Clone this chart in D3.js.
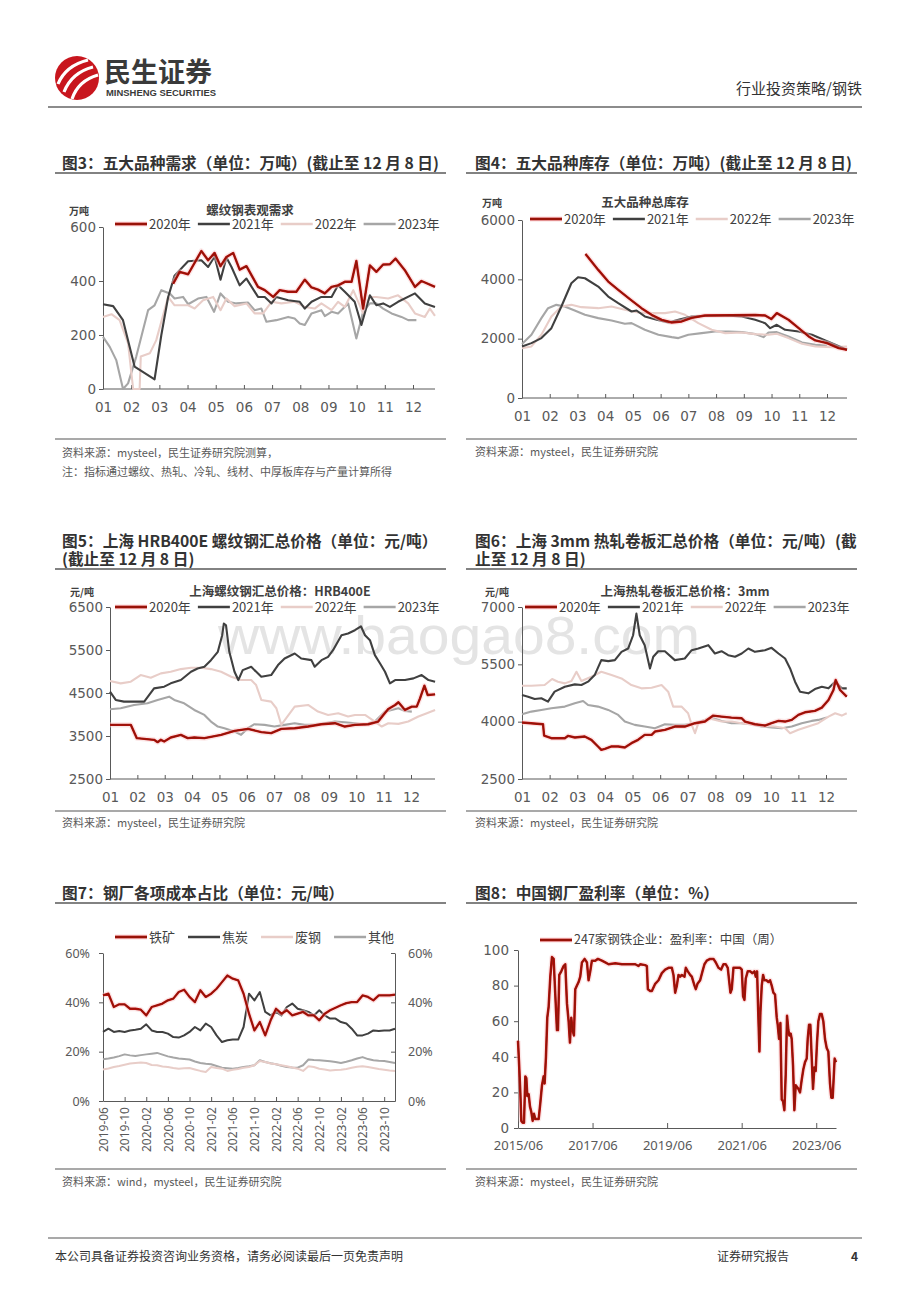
<!DOCTYPE html>
<html>
<head>
<meta charset="utf-8">
<script src="https://cdn.jsdelivr.net/npm/d3@7"></script>
<style>
  body { margin: 0; background: #fff; }
  svg { display: block; }
</style>
</head>
<body>
<script>
// ---------- data ----------
const monthLabels = ['01', '02', '03', '04', '05', '06', '07', '08', '09', '10', '11', '12']
const yearNames = ['2020年', '2021年', '2022年', '2023年']

// 图3 螺纹钢表观需求 (万吨), [month, value]
const demand2020 = [[2.49,390],[2.72,434],[3.02,425],[3.49,511],[3.73,477],[3.96,504],[4.17,455],[4.38,489],[4.62,504],[4.85,442],[5.09,455],[5.50,378],[5.74,366],[6.04,341],[6.27,366],[6.57,360],[6.86,360],[7.16,405],[7.40,376],[7.63,368],[7.87,354],[8.11,378],[8.34,384],[8.58,397],[8.82,397],[8.99,474],[9.23,298],[9.47,458],[9.70,434],[9.94,461],[10.18,462],[10.38,483],[10.71,440],[11.07,378],[11.30,400],[11.78,378]]
const demand2021 = [[0,314],[0.36,307],[0.71,255],[1.12,83],[1.83,36],[2.07,200],[2.31,340],[2.54,420],[3.02,473],[3.49,477],[3.73,452],[3.96,491],[4.17,405],[4.38,487],[4.56,452],[4.85,384],[5.09,409],[5.50,341],[5.74,341],[5.98,317],[6.15,341],[6.57,329],[6.98,323],[7.16,298],[7.40,323],[7.75,341],[8.11,341],[8.34,384],[8.58,360],[8.93,323],[9.17,237],[9.47,347],[9.70,310],[9.94,317],[10.18,304],[10.47,323],[11.07,354],[11.42,317],[11.78,304]]
const demand2022 = [[0,267],[0.30,277],[0.59,255],[0.89,169],[1.07,0],[1.30,0],[1.34,120],[1.66,132],[1.89,181],[2.31,341],[2.54,310],[3.02,310],[3.25,298],[3.55,329],[3.91,341],[4.17,292],[4.38,335],[4.67,307],[5.09,317],[5.38,280],[5.68,280],[5.98,323],[6.33,317],[6.80,323],[7.16,304],[7.51,298],[7.75,317],[8.11,292],[8.34,323],[8.58,304],[8.88,366],[9.23,280],[9.47,341],[9.70,341],[10.12,335],[10.47,347],[10.83,317],[11.07,280],[11.42,267],[11.60,298],[11.78,271]]
const demand2023 = [[0,193],[0.24,156],[0.47,107],[0.71,0],[0.89,21],[1.18,120],[1.60,292],[1.83,310],[2.07,366],[2.37,354],[2.54,335],[2.84,341],[3.02,314],[3.37,335],[3.67,341],[3.94,286],[4.17,354],[4.44,323],[4.73,317],[5.15,320],[5.38,292],[5.62,298],[5.80,249],[6.15,255],[6.57,267],[6.80,261],[6.98,243],[7.16,237],[7.40,280],[7.75,292],[7.87,270],[8.11,286],[8.34,280],[8.70,317],[8.99,187],[9.23,286],[9.47,317],[9.70,317],[9.94,298],[10.24,280],[10.59,267],[10.83,255],[11.12,255]]

// 图4 五大品种总库存 (万吨)
const stock2020 = [[2.29,4856],[2.75,4318],[3.11,3925],[3.47,3645],[3.89,3331],[4.31,3028],[4.67,2804],[5.04,2636],[5.40,2546],[5.76,2580],[6.12,2700],[6.60,2780],[7.57,2790],[8.41,2800],[8.77,2781],[8.99,2660],[9.19,2860],[9.61,2636],[9.98,2355],[10.34,2075],[10.58,1940],[11.0,1850],[11.42,1682],[11.72,1626]]
const stock2021 = [[0,1738],[0.34,1850],[0.70,2019],[1.06,2355],[1.42,3084],[1.78,3869],[2.02,4071],[2.27,4037],[2.75,3757],[3.11,3421],[3.47,3196],[3.95,2916],[4.13,2950],[4.43,2748],[4.86,2636],[5.28,2546],[5.64,2636],[6.12,2748],[6.72,2781],[7.33,2781],[7.93,2748],[8.41,2636],[8.77,2523],[8.95,2355],[9.19,2467],[9.49,2299],[9.98,2243],[10.46,2131],[10.94,1940],[11.72,1626]]
const stock2022 = [[0,1682],[0.34,1738],[0.70,2131],[1.06,2748],[1.42,3084],[1.78,3140],[2.14,3062],[2.75,3028],[3.23,3084],[3.71,2972],[4.19,2882],[4.67,2860],[5.16,2860],[5.52,2916],[5.88,2804],[6.36,2523],[6.84,2299],[7.33,2187],[7.93,2209],[8.41,2153],[8.89,2131],[9.19,2164],[9.61,2019],[10.10,1828],[10.58,1738],[11.18,1716],[11.72,1738]]
const stock2023 = [[0,1817],[0.34,2131],[0.70,2692],[0.94,3028],[1.24,3140],[1.54,3084],[1.90,2950],[2.27,2804],[2.75,2692],[3.23,2613],[3.71,2501],[3.95,2523],[4.43,2299],[4.92,2131],[5.40,2052],[5.64,2019],[6.00,2131],[6.48,2187],[6.96,2243],[7.45,2243],[7.93,2221],[8.41,2153],[8.71,2052],[8.89,2209],[9.19,2221],[9.61,2075],[10.10,1873],[10.58,1794],[11.0,1772]]

// 图5 上海螺纹钢汇总价格 HRB400E (元/吨)
const rebar2020 = [[0,3759],[0.76,3759],[0.98,3450],[1.61,3411],[1.74,3357],[1.86,3411],[1.98,3373],[2.22,3465],[2.59,3527],[2.84,3450],[3.08,3465],[3.45,3450],[4.06,3527],[4.55,3620],[5.04,3666],[5.53,3589],[5.89,3567],[6.26,3666],[6.75,3681],[7.24,3720],[7.73,3774],[8.22,3797],[8.58,3720],[8.95,3759],[9.44,3774],[9.80,3836],[9.99,3990],[10.17,4129],[10.42,4222],[10.54,4284],[10.78,4106],[11.03,4183],[11.21,4183],[11.33,4376],[11.49,4670],[11.61,4454],[11.88,4469]]
const rebar2021 = [[0,4531],[0.21,4338],[0.51,4299],[1.25,4299],[1.61,4608],[1.98,4647],[2.22,4724],[2.59,4801],[2.96,4994],[3.20,5071],[3.45,5110],[3.69,5264],[3.94,5457],[4.10,5844],[4.16,6114],[4.24,6075],[4.36,5457],[4.55,4994],[4.69,4801],[4.85,5032],[5.16,5110],[5.28,5032],[5.53,4879],[5.89,4917],[6.14,5149],[6.38,5303],[6.75,5419],[6.99,5303],[7.36,5264],[7.48,5110],[7.73,5264],[7.97,5341],[8.15,5496],[8.46,5844],[8.70,5883],[8.95,5960],[9.17,6052],[9.32,5844],[9.50,5728],[9.68,5380],[9.87,5187],[10.05,4994],[10.23,4724],[10.42,4801],[10.78,4801],[11.09,4840],[11.39,4917],[11.64,4801],[11.88,4763]]
const rebar2022 = [[0,4778],[0.39,4724],[0.76,4763],[1.12,4917],[1.49,4855],[1.86,4956],[2.22,4994],[2.59,5056],[2.96,5087],[3.33,5087],[3.69,5056],[4.06,4994],[4.43,4879],[4.79,4801],[5.16,4801],[5.34,4685],[5.53,4338],[5.89,4299],[6.08,4145],[6.26,3759],[6.44,3913],[6.75,4183],[7.24,4222],[7.60,4067],[7.97,3990],[8.34,4029],[8.70,3952],[8.95,3990],[9.32,3990],[9.68,3836],[9.93,3720],[10.17,3797],[10.54,3782],[10.90,3836],[11.27,3952],[11.58,4029],[11.88,4106]]
const rebar2023 = [[0,4122],[0.39,4145],[0.88,4222],[1.37,4261],[1.74,4338],[2.16,4415],[2.35,4338],[2.71,4261],[3.08,4106],[3.45,3990],[3.69,3836],[3.94,3720],[4.18,3681],[4.55,3604],[4.79,3527],[5.04,3681],[5.28,3774],[5.65,3759],[6.01,3720],[6.38,3759],[6.75,3797],[7.11,3759],[7.48,3759],[7.85,3797],[8.22,3836],[8.58,3820],[8.95,3797],[9.32,3759],[9.68,3836],[10.05,4067],[10.29,4106],[10.54,4145],[10.78,4083],[11.03,4067]]

// 图6 上海热轧卷板汇总价格 3mm (元/吨)
const hrc2020 = [[0,3977],[0.76,3933],[0.80,3638],[1.06,3568],[1.55,3568],[1.67,3629],[1.91,3586],[2.27,3612],[2.51,3525],[2.75,3351],[2.87,3264],[3.00,3290],[3.24,3351],[3.48,3351],[3.72,3325],[3.96,3438],[4.20,3525],[4.44,3655],[4.69,3655],[4.81,3742],[5.17,3786],[5.53,3873],[5.89,3873],[6.26,3960],[6.62,4003],[6.92,4159],[7.22,4133],[7.58,4107],[7.95,4090],[8.07,4003],[8.43,3933],[8.79,3899],[9.03,3960],[9.28,4020],[9.52,4003],[9.76,4046],[10.0,4177],[10.24,4246],[10.60,4281],[10.85,4368],[11.09,4567],[11.27,4828],[11.35,5089],[11.51,4828],[11.75,4654]]
const hrc2021 = [[0,4698],[0.22,4654],[0.46,4594],[0.70,4611],[0.94,4524],[1.18,4785],[1.55,4915],[1.91,4976],[2.15,4959],[2.39,5046],[2.63,5219],[2.87,5610],[3.12,5584],[3.36,5610],[3.60,5827],[3.84,5914],[4.02,6261],[4.14,6826],[4.26,6261],[4.44,6001],[4.63,5393],[4.75,5697],[4.93,5844],[5.17,5844],[5.53,5610],[5.89,5653],[6.14,5870],[6.38,5914],[6.74,6001],[6.98,5784],[7.22,5844],[7.46,5740],[7.71,5697],[7.95,5784],[8.19,5914],[8.43,5827],[8.79,5870],[9.03,5931],[9.28,5784],[9.52,5653],[9.70,5393],[9.88,5046],[10.06,4785],[10.36,4741],[10.60,4854],[10.85,4915],[11.09,4872],[11.33,5046],[11.57,4872],[11.75,4872]]
const hrc2022 = [[0,4941],[0.34,4941],[0.82,4959],[1.09,5115],[1.30,5046],[1.55,5002],[1.79,5063],[1.97,5306],[2.15,5063],[2.51,5176],[2.87,5306],[3.24,5219],[3.60,5132],[3.96,4959],[4.32,4872],[4.69,4889],[5.05,4959],[5.29,4785],[5.47,4394],[5.77,4394],[6.01,4220],[6.14,3916],[6.26,3699],[6.38,3960],[6.74,4090],[7.22,4003],[7.58,4003],[7.95,3960],[8.43,3916],[8.79,3890],[9.15,3873],[9.52,3829],[9.70,3699],[10.0,3786],[10.36,3873],[10.72,3960],[11.09,4133],[11.33,4220],[11.57,4159],[11.75,4220]]
const hrc2023 = [[0,4194],[0.34,4263],[0.70,4307],[1.06,4350],[1.55,4394],[1.91,4481],[2.21,4541],[2.39,4437],[2.75,4394],[3.12,4307],[3.48,4177],[3.72,4003],[4.08,3916],[4.44,3873],[4.81,3829],[5.17,3933],[5.53,3916],[5.89,3916],[6.26,3960],[6.62,4046],[6.86,4107],[7.22,4020],[7.58,3960],[7.95,3960],[8.31,3933],[8.67,3873],[9.03,3846],[9.40,3829],[9.76,3873],[10.12,3960],[10.48,4020],[10.72,4046],[11.03,4107]]

// 图7 钢厂各项成本占比 (%), monthly from 2019-06
const costNames = ['铁矿', '焦炭', '废钢', '其他']
const costTickLabels = ['2019-06', '2019-10', '2020-02', '2020-06', '2020-10', '2021-02', '2021-06', '2021-10', '2022-02', '2022-06', '2022-10', '2023-02', '2023-06', '2023-10']
const ironOre = [42.8,43.5,38.1,39.2,39.2,37.4,37.4,37.0,34.7,38.1,38.8,39.5,40.8,41.5,44.2,45.1,42.2,40.1,44.9,42.2,43.5,45.5,48.2,50.9,49.6,48.9,43.5,35.4,28.6,32.0,26.6,32.7,37.4,35.4,36.8,34.7,35.4,36.1,34.7,34.7,32.7,35.4,36.8,37.8,38.8,39.7,40.1,40.1,42.8,42.2,40.8,42.8,42.8,42.8,43.1]
const coke = [28.0,29.3,28.0,28.4,28.0,28.6,28.9,29.3,31.1,28.6,28.0,28.0,27.3,25.9,25.7,26.6,28.0,30.0,28.6,31.4,30.0,26.6,23.9,24.6,24.9,24.9,30.0,43.5,40.8,44.2,36.1,34.7,36.1,34.7,38.1,39.5,37.4,36.8,36.1,34.7,36.8,34.7,33.4,33.4,32.0,31.4,29.3,26.6,26.6,27.3,28.6,28.4,28.6,28.6,29.3]
const scrap = [12.8,13.2,13.8,14.2,14.7,15.2,15.4,15.6,15.4,14.6,14.5,14.0,13.8,13.4,13.1,13.3,13.4,12.8,12.2,11.8,13.8,13.4,13.1,12.2,12.7,13.0,13.5,13.8,14.5,16.2,15.8,15.2,14.9,14.5,14.1,13.6,13.1,12.2,14.1,13.8,13.1,12.8,12.4,12.6,12.7,13.0,13.5,13.9,14.1,13.8,13.4,13.0,12.7,12.4,12.2]
const other = [16.9,17.2,17.6,18.2,18.9,18.5,18.2,18.6,18.9,19.2,19.5,18.8,18.1,17.6,17.2,17.0,16.8,16.0,15.4,15.1,14.9,14.2,13.5,13.3,13.1,13.4,13.8,14.1,14.5,16.5,15.8,15.3,14.9,14.3,13.8,13.6,13.5,14.5,16.8,16.6,16.5,16.3,16.1,15.8,15.4,15.9,16.5,17.2,17.8,17.0,16.5,16.3,16.2,15.8,15.4]

// 图8 247家钢铁企业盈利率 (%), [months since 2015-06, value]
const profitName = '247家钢铁企业：盈利率：中国（周）'
const profitTickLabels = ['2015/06', '2017/06', '2019/06', '2021/06', '2023/06']
const profit = [[0,49],[0.3,38],[0.75,20],[1.07,4],[1.5,3],[1.93,3],[2.36,29],[2.68,28],[3.0,18],[3.43,19],[3.86,12],[4.29,9],[4.72,4],[5.14,8],[5.57,5],[6.11,5],[6.65,5],[7.18,14],[7.72,24],[8.25,29],[8.57,25],[9.0,40],[9.43,62],[9.86,68],[10.4,85],[10.93,96],[11.47,95],[12.0,75],[12.54,55],[12.86,55],[13.29,86],[13.93,88],[14.68,91],[15.22,92],[15.76,70],[16.29,60],[16.72,48],[17.15,62],[17.58,55],[18.0,52],[18.44,78],[18.97,80],[19.51,82],[20.04,85],[20.58,93],[21.44,95],[22.19,93],[22.72,83],[23.26,88],[23.79,94],[24.87,94],[25.72,95],[27.0,94],[28.08,93],[29.15,92],[31.3,92.5],[33.44,92],[35.58,92],[37.73,92],[38.8,91],[39.33,92],[40.94,91.5],[41.48,91],[41.8,78],[42.55,77],[43.09,77],[44.16,81],[45.23,83],[46.3,87],[47.37,89],[48.45,90],[49.52,90],[50.05,86],[50.59,76],[51.13,80],[51.66,86],[52.2,85],[52.73,86],[53.59,85],[54.02,90],[54.66,88],[55.41,86],[55.95,85],[56.81,80],[57.23,78],[57.77,81],[58.63,83],[59.38,88],[60.02,92],[60.77,94],[61.84,95],[62.92,95],[63.67,93],[64.52,90],[65.38,89],[66.13,92],[66.88,92],[67.52,90],[67.95,83],[68.38,76],[68.81,78],[69.35,90],[70.42,90],[71.49,90],[72.03,89],[72.45,74],[72.88,72],[73.31,84],[73.95,88],[74.71,88],[75.46,87],[76.1,88],[76.53,85],[76.96,88],[77.38,62],[77.71,43],[78.03,65],[78.46,80],[78.89,86],[79.31,83],[79.96,83],[80.6,82],[81.14,83],[81.67,80],[82.21,76],[82.74,75],[83.28,62],[83.6,58],[84.03,50],[84.46,59],[84.67,38],[84.89,16],[85.32,15],[85.74,10],[86.17,30],[86.6,63],[87.03,55],[87.35,52],[87.78,53],[88.1,50],[88.53,35],[88.96,10],[89.39,24],[89.82,23],[90.24,22],[90.78,20],[91.32,27],[91.85,33],[92.39,37],[92.93,39],[93.25,50],[93.68,58],[94.1,58],[94.53,40],[94.96,22],[95.39,34],[95.82,32],[96.25,48],[96.68,60],[97.21,64],[97.75,64],[98.28,60],[98.82,50],[99.36,45],[99.89,43],[100.43,25],[100.86,17],[101.29,17],[101.61,28],[101.93,39],[102.36,37]]

// ---------- style ----------
const RED = '#8f1508'
const seriesColors = [RED, '#404040', '#e8cdc8', '#a6a6a6']
const axisColor = '#595959'
const CJK = '"Noto Sans CJK SC", "Noto Sans", sans-serif'

const svg = d3
  .select('body')
  .append('svg')
  .attr('width', 920)
  .attr('height', 1302)
  .attr('font-family', CJK)

svg.append('rect').attr('width', 920).attr('height', 1302).attr('fill', '#fff')

// watermark (behind everything)
svg
  .append('text')
  .attr('x', 218)
  .attr('y', 654)
  .attr('font-family', 'Liberation Sans')
  .attr('font-size', 54)
  .attr('fill', '#e4e4e4')
  .attr('textLength', 482)
  .attr('lengthAdjust', 'spacingAndGlyphs')
  .text('www.baogao8.com')

// ---------- header ----------
const defs = svg.append('defs')
defs.append('clipPath').attr('id', 'logo-clip').append('circle').attr('cx', 77).attr('cy', 78).attr('r', 22)
const logo = svg.append('g')
logo.append('circle').attr('cx', 77).attr('cy', 78).attr('r', 22).attr('fill', '#c8161e')
const swoosh = logo.append('g').attr('clip-path', 'url(#logo-clip)')
  ;['M58,84 C63,72 72,64 88,60', 'M64,92 C69,79 78,71 93,67', 'M72,99 C76,87 84,79 98,75'].forEach(d => {
  swoosh.append('path').attr('d', d).attr('fill', 'none').attr('stroke', '#fff').attr('stroke-width', 3.2)
})
svg.append('text').attr('x', 104).attr('y', 82).attr('font-size', 27).attr('font-weight', 700).attr('fill', '#3a3a3a').text('民生证券')
svg
  .append('text')
  .attr('x', 106)
  .attr('y', 96)
  .attr('font-family', 'Liberation Sans')
  .attr('font-size', 9)
  .attr('font-weight', 700)
  .attr('fill', '#3a3a3a')
  .attr('textLength', 110)
  .attr('lengthAdjust', 'spacingAndGlyphs')
  .text('MINSHENG SECURITIES')
svg.append('text').attr('x', 862).attr('y', 94).attr('text-anchor', 'end').attr('font-size', 15).attr('fill', '#333').text('行业投资策略/钢铁')
svg.append('line').attr('x1', 48).attr('x2', 862).attr('y1', 107).attr('y2', 107).attr('stroke', '#8c8c8c').attr('stroke-width', 2)

// ---------- footer ----------
svg.append('line').attr('x1', 48).attr('x2', 862).attr('y1', 1238).attr('y2', 1238).attr('stroke', '#8c8c8c').attr('stroke-width', 1.5)
svg.append('text').attr('x', 55).attr('y', 1261).attr('font-size', 12).attr('fill', '#333').text('本公司具备证券投资咨询业务资格，请务必阅读最后一页免责声明')
svg.append('text').attr('x', 717).attr('y', 1261).attr('font-size', 12).attr('fill', '#333').text('证券研究报告')
svg.append('text').attr('x', 851).attr('y', 1261).attr('font-size', 12).attr('font-weight', 700).attr('fill', '#333').text('4')

// ---------- helpers ----------
function panelTitle(lines, x, y, lx0, lx1, ly) {
  lines.forEach((t, i) => {
    svg.append('text').attr('x', x).attr('y', y + i * 18).attr('font-size', 15.7).attr('font-weight', 700).attr('fill', '#333').text(t)
  })
  svg.append('line').attr('x1', lx0).attr('x2', lx1).attr('y1', ly).attr('y2', ly).attr('stroke', '#595959').attr('stroke-width', 1.6)
}

function sourceNote(lines, x, y, lx0, lx1, ly) {
  svg.append('line').attr('x1', lx0).attr('x2', lx1).attr('y1', ly).attr('y2', ly).attr('stroke', '#8c8c8c').attr('stroke-width', 1.6)
  lines.forEach((t, i) => {
    svg.append('text').attr('x', x).attr('y', y + i * 19).attr('font-size', 11).attr('fill', '#595959').text(t)
  })
}

function styleAxis(sel, font, size) {
  sel.select('.domain').attr('stroke', axisColor)
  sel.selectAll('.tick line').attr('stroke', axisColor)
  sel.selectAll('.tick text').attr('fill', axisColor).attr('font-family', font).attr('font-size', size)
}

// the red series carries a soft pink glow and a thin red rim, like the source image
function drawPath(g, d, color, width) {
  const p = () => g.append('path').attr('d', d).attr('fill', 'none').attr('stroke-linejoin', 'round')
  if (color === RED) {
    p().attr('stroke', '#f7d0d0').attr('stroke-width', width + 3).attr('opacity', 0.5)
    p().attr('stroke', '#c01010').attr('stroke-width', width + 0.3)
    p().attr('stroke', RED).attr('stroke-width', width - 0.8)
  } else {
    p().attr('stroke', color).attr('stroke-width', width)
  }
}

function legend(g, names, colors, x, y, gap, size) {
  let cx = x
  names.forEach((name, i) => {
    drawPath(g, `M${cx},${y}H${cx + 32}`, colors[i], 2.5)
    const t = g.append('text').attr('x', cx + 34).attr('y', y).attr('dy', '0.35em').attr('font-size', size).attr('fill', '#404040').text(name)
    cx += 34 + t.node().getComputedTextLength() + gap
  })
}

function yearChart(cfg) {
  const g = svg.append('g')
  const x = d3.scaleLinear().domain([0, 11]).range([cfg.left, cfg.m12])
  const y = d3.scaleLinear().domain(cfg.yDomain).range([cfg.bottom, cfg.top])

  const yAxis = g
    .append('g')
    .attr('transform', `translate(${cfg.left},0)`)
    .call(d3.axisLeft(y).tickValues(cfg.yTicks).tickFormat(d3.format('d')).tickSize(4).tickSizeOuter(0).tickPadding(3))
  styleAxis(yAxis, 'DejaVu Sans', 13.5)

  const xAxis = g
    .append('g')
    .attr('transform', `translate(0,${cfg.bottom})`)
    .call(d3.axisBottom(x).tickValues(d3.range(12)).tickFormat(d => monthLabels[d]).tickSize(-4).tickPadding(13))
  xAxis.select('.domain').remove()
  styleAxis(xAxis, 'DejaVu Sans', 13.5)
  g.append('line').attr('x1', cfg.left).attr('x2', cfg.right).attr('y1', cfg.bottom).attr('y2', cfg.bottom).attr('stroke', axisColor)

  const line = d3.line().x(d => x(d[0])).y(d => y(d[1]))
  for (let i = cfg.series.length - 1; i >= 0; i--) {
    drawPath(g, line(cfg.series[i]), seriesColors[i], 2.1)
  }

  g.append('text').attr('x', cfg.unitX).attr('y', cfg.headY).attr('dy', '0.35em').attr('text-anchor', 'middle').attr('font-size', 10).attr('font-weight', 700).attr('fill', '#404040').text(cfg.unit)
  g.append('text').attr('x', cfg.titleX).attr('y', cfg.headY).attr('dy', '0.35em').attr('text-anchor', 'middle').attr('font-size', 12.5).attr('font-weight', 700).attr('fill', '#404040').text(cfg.title)
  legend(g, yearNames, seriesColors, cfg.legendX, cfg.legendY, 7, 13)
}

// ---------- 图3 ----------
panelTitle(['图3：五大品种需求（单位：万吨）(截止至 12 月 8 日)'], 62, 169, 55, 446, 173)
yearChart({
  left: 103, m12: 413, right: 435, top: 227, bottom: 389,
  yDomain: [0, 600], yTicks: [0, 200, 400, 600],
  series: [demand2020, demand2021, demand2022, demand2023],
  unit: '万吨', unitX: 79, title: '螺纹钢表观需求', titleX: 250, headY: 211,
  legendX: 115, legendY: 224
})
sourceNote(['资料来源：mysteel，民生证券研究院测算，', '注：指标通过螺纹、热轧、冷轧、线材、中厚板库存与产量计算所得'], 62, 457, 55, 446, 439)

// ---------- 图4 ----------
panelTitle(['图4：五大品种库存（单位：万吨）(截止至 12 月 8 日)'], 475, 169, 466, 857, 173)
yearChart({
  left: 522, m12: 827, right: 847, top: 220, bottom: 398,
  yDomain: [0, 6000], yTicks: [0, 2000, 4000, 6000],
  series: [stock2020, stock2021, stock2022, stock2023],
  unit: '万吨', unitX: 492, title: '五大品种总库存', titleX: 645, headY: 203,
  legendX: 530, legendY: 219
})
sourceNote(['资料来源：mysteel，民生证券研究院'], 475, 456, 466, 857, 439)

// ---------- 图5 ----------
panelTitle(['图5：上海 HRB400E 螺纹钢汇总价格（单位：元/吨）', '(截止至 12 月 8 日)'], 62, 547, 55, 446, 569)
yearChart({
  left: 110, m12: 411, right: 435, top: 607, bottom: 779,
  yDomain: [2500, 6500], yTicks: [2500, 3500, 4500, 5500, 6500],
  series: [rebar2020, rebar2021, rebar2022, rebar2023],
  unit: '元/吨', unitX: 82, title: '上海螺纹钢汇总价格：HRB400E', titleX: 280, headY: 592,
  legendX: 115, legendY: 607
})
sourceNote(['资料来源：mysteel，民生证券研究院'], 62, 827, 55, 446, 811)

// ---------- 图6 ----------
panelTitle(['图6：上海 3mm 热轧卷板汇总价格（单位：元/吨）(截', '止至 12 月 8 日)'], 475, 547, 466, 857, 569)
yearChart({
  left: 522, m12: 826, right: 847, top: 607, bottom: 779,
  yDomain: [2500, 7000], yTicks: [2500, 4000, 5500, 7000],
  series: [hrc2020, hrc2021, hrc2022, hrc2023],
  unit: '元/吨', unitX: 497, title: '上海热轧卷板汇总价格：3mm', titleX: 685, headY: 592,
  legendX: 525, legendY: 607
})
sourceNote(['资料来源：mysteel，民生证券研究院'], 475, 827, 466, 857, 811)

// ---------- 图7 ----------
panelTitle(['图7：钢厂各项成本占比（单位：元/吨）'], 62, 899, 55, 446, 903)
{
  const g = svg.append('g')
  const left = 103, right = 395, top = 953, bottom = 1101
  const x = d3.scaleLinear().domain([0, ironOre.length - 1]).range([left, right])
  const y = d3.scaleLinear().domain([0, 60]).range([bottom, top])
  const pct = d => d + '%'

  const yl = g.append('g').attr('transform', `translate(${left},0)`)
    .call(d3.axisLeft(y).tickValues([0, 20, 40, 60]).tickFormat(pct).tickSize(4).tickSizeOuter(0).tickPadding(9))
  styleAxis(yl, '"Noto Sans"', 12.5)
  const yr = g.append('g').attr('transform', `translate(${right},0)`)
    .call(d3.axisRight(y).tickValues([0, 20, 40, 60]).tickFormat(pct).tickSize(-4).tickSizeOuter(0).tickPadding(13))
  styleAxis(yr, '"Noto Sans"', 12.5)

  const xa = g.append('g').attr('transform', `translate(0,${bottom})`)
    .call(d3.axisBottom(x).tickValues(costTickLabels.map((d, i) => i * 4)).tickFormat((d, i) => costTickLabels[i]).tickSize(-4).tickSizeOuter(0))
  styleAxis(xa, '"Noto Sans"', 12)
  xa.selectAll('.tick text')
    .attr('transform', 'rotate(-90)')
    .attr('text-anchor', 'end')
    .attr('x', -6)
    .attr('y', 0)
    .attr('dy', '0.35em')

  const line = d3.line().x((d, i) => x(i)).y(d => y(d))
  const costSeries = [ironOre, coke, scrap, other]
  for (let i = costSeries.length - 1; i >= 0; i--) {
    drawPath(g, line(costSeries[i]), seriesColors[i], 2)
  }
  legend(g, costNames, seriesColors, 115, 937, 13, 13)
}
sourceNote(['资料来源：wind，mysteel，民生证券研究院'], 62, 1186, 55, 446, 1169)

// ---------- 图8 ----------
panelTitle(['图8：中国钢厂盈利率（单位：%）'], 475, 899, 466, 857, 903)
{
  const g = svg.append('g')
  const left = 518, right = 836, top = 950, bottom = 1128
  const x = d3.scaleLinear().domain([0, profit[profit.length - 1][0]]).range([left, right])
  const y = d3.scaleLinear().domain([0, 100]).range([bottom, top])

  const ya = g.append('g').attr('transform', `translate(${left},0)`)
    .call(d3.axisLeft(y).tickValues([0, 20, 40, 60, 80, 100]).tickSize(4).tickSizeOuter(0).tickPadding(5))
  styleAxis(ya, 'DejaVu Sans', 13.5)
  const xa = g.append('g').attr('transform', `translate(0,${bottom})`)
    .call(d3.axisBottom(x).tickValues(profitTickLabels.map((d, i) => i * 24)).tickFormat((d, i) => profitTickLabels[i]).tickSize(-5).tickSizeOuter(0).tickPadding(13))
  styleAxis(xa, '"Noto Sans"', 13)

  const line = d3.line().x(d => x(d[0])).y(d => y(d[1]))
  drawPath(g, line(profit), RED, 2.2)
  legend(g, [profitName], [RED], 540, 940, 7, 12.5)
}
sourceNote(['资料来源：mysteel，民生证券研究院'], 475, 1186, 466, 857, 1169)
</script>
</body>
</html>
